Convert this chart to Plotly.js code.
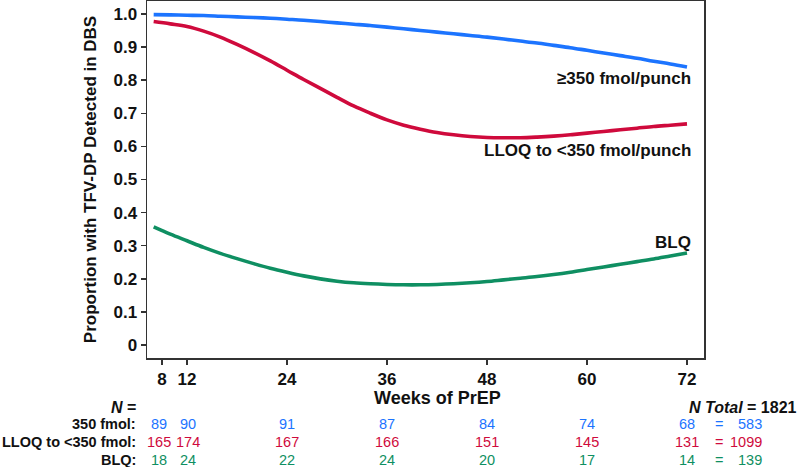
<!DOCTYPE html>
<html>
<head>
<meta charset="utf-8">
<script src="https://cdn.plot.ly/plotly-3.0.1.min.js"></script>
<style>html,body{margin:0;padding:0;background:#fff;}#chart{width:800px;height:467px;}</style>
</head>
<body>
<div id="chart"></div>
<script>
// ---- data ----
const weeks = [8,10,12,14,16,18,20,22,24,26,28,30,32,34,36,38,40,42,44,46,48,50,52,54,56,58,60,62,64,66,68,70,72];
const high350 = [0.998,0.997,0.996,0.995,0.993,0.991,0.989,0.987,0.984,0.981,0.977,0.973,0.969,0.965,0.960,0.955,0.950,0.945,0.940,0.935,0.930,0.924,0.918,0.912,0.905,0.898,0.890,0.882,0.874,0.866,0.857,0.849,0.840];
const lloq350 = [0.977,0.970,0.962,0.948,0.930,0.908,0.884,0.858,0.830,0.802,0.775,0.748,0.722,0.700,0.680,0.664,0.652,0.642,0.635,0.630,0.627,0.626,0.626,0.628,0.631,0.635,0.640,0.645,0.650,0.655,0.660,0.664,0.668];
const blq = [0.357,0.335,0.315,0.295,0.277,0.261,0.246,0.232,0.220,0.209,0.200,0.193,0.188,0.185,0.183,0.182,0.182,0.183,0.185,0.188,0.192,0.197,0.202,0.207,0.213,0.220,0.228,0.236,0.244,0.252,0.260,0.269,0.278];

const tickLabels = ["8","12","24","36","48","60","72"];
const tickPos = [9,12,24,36,48,60,72];
const yTicks = [0,0.1,0.2,0.3,0.4,0.5,0.6,0.7,0.8,0.9,1.0];
const yTickText = ["0","0.1","0.2","0.3","0.4","0.5","0.6","0.7","0.8","0.9","1.0"];

const seriesNames = ["≥350 fmol/punch","LLOQ to <350 fmol/punch","BLQ"];
const rowLabels = ["350 fmol:","LLOQ to <350 fmol:","BLQ:"];
const n350 = [89,90,91,87,84,74,68];
const nLLOQ = [165,174,167,166,151,145,131];
const nBLQ = [18,24,22,24,20,17,14];
const totals = [583,1099,139];
const nTotal = 1821;

const colors = ["#1c74ff","#cf0a3c","#0f8f62"];
const FONT = "Liberation Sans, Arial, Helvetica, sans-serif";

const traces = [high350, lloq350, blq].map((ys,i)=>({
  x: weeks, y: ys, type:'scatter', mode:'lines', name: seriesNames[i],
  line:{color:colors[i], width:3.6, shape:'spline', smoothing:1},
  hoverinfo:'skip'
}));

const L = 147, R = 704, T = 1, B = 358;
const pw = R - L, ph = B - T;
const px2x = p => (p - L) / pw;
const py2y = p => (B - p) / ph;

const ann = [];
// curve labels
const labelY = [0.804, 0.589, 0.311];
seriesNames.forEach((s,i)=>{
  ann.push({xref:'paper', yref:'y', x:px2x(693), y:labelY[i], text:'<b>'+s+'</b>',
    showarrow:false, xanchor:'right', yanchor:'middle', font:{family:FONT,size:17,color:'#111'}});
});
// x title
ann.push({xref:'paper', yref:'paper', x:px2x(437), y:py2y(398), text:'<b>Weeks of PrEP</b>',
  showarrow:false, xanchor:'center', yanchor:'middle', font:{family:FONT,size:18,color:'#111'}});
// N = header
ann.push({xref:'paper', yref:'paper', x:px2x(138), y:py2y(407), text:'<b><i>N</i> =</b>',
  showarrow:false, xanchor:'right', yanchor:'middle', font:{family:FONT,size:16,color:'#111'}});
ann.push({xref:'paper', yref:'paper', x:px2x(799), y:py2y(407), text:'<b><i>N Total</i> = '+nTotal+'</b>',
  showarrow:false, xanchor:'right', yanchor:'middle', font:{family:FONT,size:16,color:'#111'}});
const rowsPx = [424, 442, 460];
const counts = [n350, nLLOQ, nBLQ];
const colShift = [-3,1,0,0,0,0,0];
rowLabels.forEach((lab,r)=>{
  ann.push({xref:'paper', yref:'paper', x:px2x(138), y:py2y(rowsPx[r]), text:'<b>'+lab+'</b>',
    showarrow:false, xanchor:'right', yanchor:'middle', font:{family:FONT,size:14.5,color:'#111'}});
  counts[r].forEach((v,c)=>{
    ann.push({xref:'x', yref:'paper', x:tickPos[c], xshift:colShift[c], y:py2y(rowsPx[r]), text:String(v),
      showarrow:false, xanchor:'center', yanchor:'middle', font:{family:FONT,size:14.5,color:colors[r]}});
  });
  ann.push({xref:'paper', yref:'paper', x:px2x(725), y:py2y(rowsPx[r]), text:'=',
    showarrow:false, xanchor:'right', yanchor:'middle', font:{family:FONT,size:14.5,color:colors[r]}});
  ann.push({xref:'paper', yref:'paper', x:px2x(764), y:py2y(rowsPx[r]), text:String(totals[r]),
    showarrow:false, xanchor:'right', yanchor:'middle', font:{family:FONT,size:14.5,color:colors[r]}});
});

const layout = {
  width:800, height:467,
  margin:{l:L, r:800-R, t:T, b:467-B, pad:0},
  paper_bgcolor:'#fff', plot_bgcolor:'#fff',
  showlegend:false,
  font:{family:FONT, color:'#111'},
  xaxis:{range:[7.2,74.04], tickvals:tickPos, ticktext:tickLabels.map(t=>'<b>'+t+'</b>'),
    ticks:'outside', ticklen:5, tickwidth:1.5, tickcolor:'#333',
    showline:true, linecolor:'#333', linewidth:1.5, mirror:true,
    showgrid:false, zeroline:false, tickfont:{family:FONT,size:17,color:'#111'}, automargin:false},
  yaxis:{range:[-0.039,1.039], tickvals:yTicks, ticktext:yTickText.map(t=>'<b>'+t+'</b>'),
    ticks:'outside', ticklen:5, tickwidth:1.5, tickcolor:'#333',
    showline:true, linecolor:'#333', linewidth:1.5, mirror:true,
    showgrid:false, zeroline:false, tickfont:{family:FONT,size:17,color:'#111'},
    title:{text:'<b>Proportion with TFV-DP Detected in DBS</b>', font:{family:FONT,size:17,color:'#111'}, standoff:12},
    automargin:false},
  annotations: ann
};

Plotly.newPlot('chart', traces, layout, {staticPlot:true, displayModeBar:false});
</script>
</body>
</html>
